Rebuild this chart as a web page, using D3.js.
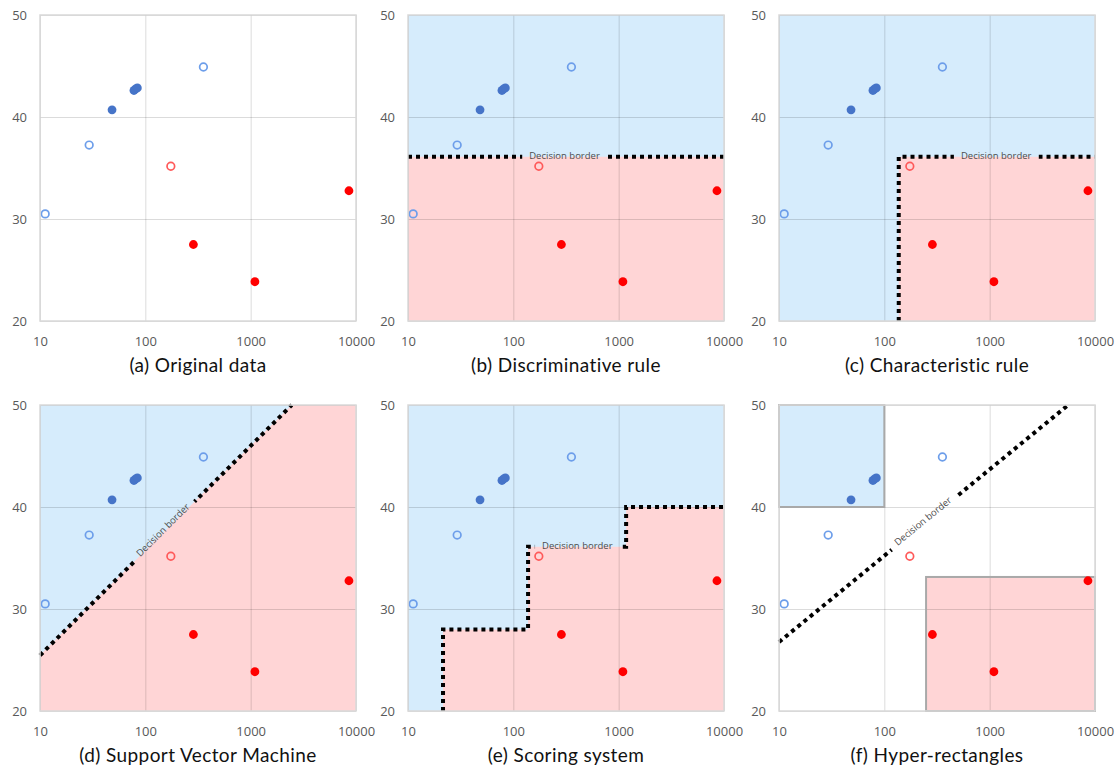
<!DOCTYPE html>
<html>
<head>
<meta charset="utf-8">
<script src="https://cdn.jsdelivr.net/npm/d3@7"></script>
<style>
  body { margin: 0; background: #fff; }
  #chart { width: 1116px; height: 767px; }
  .tick text { font-family: "Open Sans", sans-serif; font-size: 13px; fill: #595959; }
  .caption { font-family: Lato, sans-serif; font-size: 19px; letter-spacing: 0.4px; fill: #111; }
  .borderLabel { font-family: "Open Sans", sans-serif; font-size: 9.5px; fill: #4d4d4d; }
</style>
</head>
<body>
<div id="chart"></div>
<script>
// axis ticks
const xTicks = [10, 100, 1000, 10000];
const yTicks = [20, 30, 40, 50];

// data points (x on log scale, y linear)
const openBlue = [[11.2, 30.5], [29.3, 37.25], [356, 44.9]];
const filledBlue = [[48.3, 40.7], [78, 42.6], [81, 42.75], [84, 42.85]];
const openRed = [[174.6, 35.17]];
const filledRed = [[286, 27.5], [1097, 23.85], [8570, 32.77]];

const captions = [
  "(a) Original data",
  "(b) Discriminative rule",
  "(c) Characteristic rule",
  "(d) Support Vector Machine",
  "(e) Scoring system",
  "(f) Hyper-rectangles"
];

// decision borders per panel
const borderB = [[10, 36.1], [10000, 36.1]];
const borderC = [[137, 20], [137, 36.1], [10000, 36.1]];
const borderD = [[10, 25.46], [2455, 50]];
const borderE = [[21.5, 20], [21.5, 28], [138, 28], [138, 36.1], [1177, 36.1], [1177, 40], [10000, 40]];
const borderF = [[10, 26.76], [5570, 50]];

// red regions per panel
const redB = [[10, 36.1], [10000, 36.1], [10000, 20], [10, 20]];
const redC = [[137, 20], [137, 36.1], [10000, 36.1], [10000, 20]];
const redD = [[10, 20], [10, 25.46], [2455, 50], [10000, 50], [10000, 20]];
const redE = [[21.5, 20], [21.5, 28], [138, 28], [138, 36.1], [1177, 36.1], [1177, 40], [10000, 40], [10000, 20]];

// hyper-rectangles (panel f)
const blueBox = [[10, 40], [100, 50]];
const redBox = [[249, 20], [10000, 33.14]];

// where the "Decision border" label sits on each border
const labelB = 306;
const labelC = 1153;
const labelD = 152;
const labelE = 405;
const labelF = 240;

const panels = [
  { caption: captions[0] },
  { caption: captions[1], blueBg: true, red: redB, border: borderB, labelX: labelB },
  { caption: captions[2], blueBg: true, red: redC, border: borderC, labelX: labelC },
  { caption: captions[3], blueBg: true, red: redD, border: borderD, labelX: labelD },
  { caption: captions[4], blueBg: true, red: redE, border: borderE, labelX: labelE },
  { caption: captions[5], boxes: true, border: borderF, labelX: labelF }
];

const width = 1116;
const height = 767;
const lefts = [40, 408, 779];
const tops = [15, 405];
const pw = 316;
const ph = 306;

const blueFill = "#d6ecfc";
const redFill = "#ffd5d6";

const svg = d3.select("#chart")
  .append("svg")
  .attr("width", width)
  .attr("height", height);

const defs = svg.append("defs");

panels.forEach(function(p, i) {
  const x0 = lefts[i % 3];
  const y0 = tops[Math.floor(i / 3)];

  const xScale = d3.scaleLog().domain([10, 10000]).range([0, pw]);
  const yScale = d3.scaleLinear().domain([20, 50]).range([ph, 0]);
  const line = d3.line()
    .x(function(d) { return xScale(d[0]); })
    .y(function(d) { return yScale(d[1]); });

  const g = svg.append("g").attr("transform", `translate(${x0},${y0})`);

  // background regions
  if (p.blueBg) {
    g.append("rect").attr("width", pw).attr("height", ph).attr("fill", blueFill);
  }
  if (p.red) {
    g.append("path").attr("d", line(p.red) + "Z").attr("fill", redFill);
  }
  if (p.boxes) {
    [[blueBox, blueFill], [redBox, redFill]].forEach(function(b) {
      const bx = b[0];
      g.append("rect")
        .attr("x", xScale(bx[0][0]))
        .attr("y", yScale(bx[1][1]))
        .attr("width", xScale(bx[1][0]) - xScale(bx[0][0]))
        .attr("height", yScale(bx[0][1]) - yScale(bx[1][1]))
        .attr("fill", b[1]);
    });
  }

  // grid lines
  g.append("g")
    .attr("transform", `translate(0,${ph})`)
    .call(d3.axisBottom(xScale).tickValues(xTicks).tickSize(-ph).tickFormat(""))
    .call(function(a) {
      a.select(".domain").remove();
      a.selectAll("line").attr("stroke", "#000").attr("stroke-opacity", 0.14);
    });
  g.append("g")
    .call(d3.axisLeft(yScale).tickValues(yTicks).tickSize(-pw).tickFormat(""))
    .call(function(a) {
      a.select(".domain").remove();
      a.selectAll("line").attr("stroke", "#000").attr("stroke-opacity", 0.14);
    });

  // box outlines in panel f
  if (p.boxes) {
    [blueBox, redBox].forEach(function(bx) {
      g.append("rect")
        .attr("x", xScale(bx[0][0]))
        .attr("y", yScale(bx[1][1]))
        .attr("width", xScale(bx[1][0]) - xScale(bx[0][0]))
        .attr("height", yScale(bx[0][1]) - yScale(bx[1][1]))
        .attr("fill", "none")
        .attr("stroke", "#a9a9a9")
        .attr("stroke-width", 2);
    });
  }

  // tick labels
  g.append("g")
    .attr("transform", `translate(0,${ph})`)
    .call(d3.axisBottom(xScale).tickValues(xTicks).tickSize(0).tickPadding(16).tickFormat(d3.format("d")))
    .call(function(a) { a.select(".domain").remove(); });
  g.append("g")
    .call(d3.axisLeft(yScale).tickValues(yTicks).tickSize(0).tickPadding(13).tickFormat(d3.format("d")))
    .call(function(a) { a.select(".domain").remove(); });

  // decision border with a gap for its label
  if (p.border) {
    // find the label position on the border
    let lx = xScale(p.labelX), ly = 0, ang = 0;
    for (let k = 0; k < p.border.length - 1; k++) {
      const a = [xScale(p.border[k][0]), yScale(p.border[k][1])];
      const b = [xScale(p.border[k + 1][0]), yScale(p.border[k + 1][1])];
      if (lx >= Math.min(a[0], b[0]) && lx <= Math.max(a[0], b[0]) && a[0] !== b[0]) {
        const t = (lx - a[0]) / (b[0] - a[0]);
        ly = a[1] + t * (b[1] - a[1]);
        ang = Math.atan2(b[1] - a[1], b[0] - a[0]) * 180 / Math.PI;
        break;
      }
    }

    const label = g.append("text")
      .attr("class", "borderLabel")
      .attr("text-anchor", "middle")
      .attr("x", 0)
      .attr("y", ang === 0 ? 0 : -1.5)
      .attr("dominant-baseline", "middle")
      .attr("transform", `translate(${lx},${ly}) rotate(${ang})`)
      .text("Decision border");
    const bb = label.node().getBBox();

    const maskId = "gap" + i;
    const mask = defs.append("mask").attr("id", maskId).attr("maskUnits", "userSpaceOnUse")
      .attr("x", -50).attr("y", -50).attr("width", pw + 100).attr("height", ph + 100);
    mask.append("rect").attr("x", -50).attr("y", -50).attr("width", pw + 100).attr("height", ph + 100).attr("fill", "#fff");
    mask.append("rect")
      .attr("x", bb.x - 7).attr("y", -8).attr("width", bb.width + 14).attr("height", 16)
      .attr("transform", `translate(${lx},${ly}) rotate(${ang})`)
      .attr("fill", "#000");

    g.insert("path", ".borderLabel")
      .attr("d", line(p.border))
      .attr("fill", "none")
      .attr("stroke", "#000")
      .attr("stroke-width", 4)
      .attr("stroke-dasharray", "4,4")
      .attr("mask", `url(#${maskId})`);
  }

  // data points
  g.selectAll(".ob").data(openBlue).enter().append("circle")
    .attr("cx", function(d) { return xScale(d[0]); })
    .attr("cy", function(d) { return yScale(d[1]); })
    .attr("r", 3.8).attr("fill", "none").attr("stroke", "#6d9eea").attr("stroke-width", 1.7);
  g.selectAll(".fb").data(filledBlue).enter().append("circle")
    .attr("cx", function(d) { return xScale(d[0]); })
    .attr("cy", function(d) { return yScale(d[1]); })
    .attr("r", 4.4).attr("fill", "#4674c8");
  g.selectAll(".or").data(openRed).enter().append("circle")
    .attr("cx", function(d) { return xScale(d[0]); })
    .attr("cy", function(d) { return yScale(d[1]); })
    .attr("r", 3.8).attr("fill", "none").attr("stroke", "#ff5a5a").attr("stroke-width", 1.7);
  g.selectAll(".fr").data(filledRed).enter().append("circle")
    .attr("cx", function(d) { return xScale(d[0]); })
    .attr("cy", function(d) { return yScale(d[1]); })
    .attr("r", 4.4).attr("fill", "#ff0000");

  // plot outline
  g.append("rect")
    .attr("width", pw).attr("height", ph)
    .attr("fill", "none").attr("stroke", "#d9d9d9").attr("stroke-width", 1.5);

  // caption
  g.append("text")
    .attr("class", "caption")
    .attr("x", pw / 2)
    .attr("y", ph + 51)
    .attr("text-anchor", "middle")
    .text(p.caption);
});
</script>
</body>
</html>
